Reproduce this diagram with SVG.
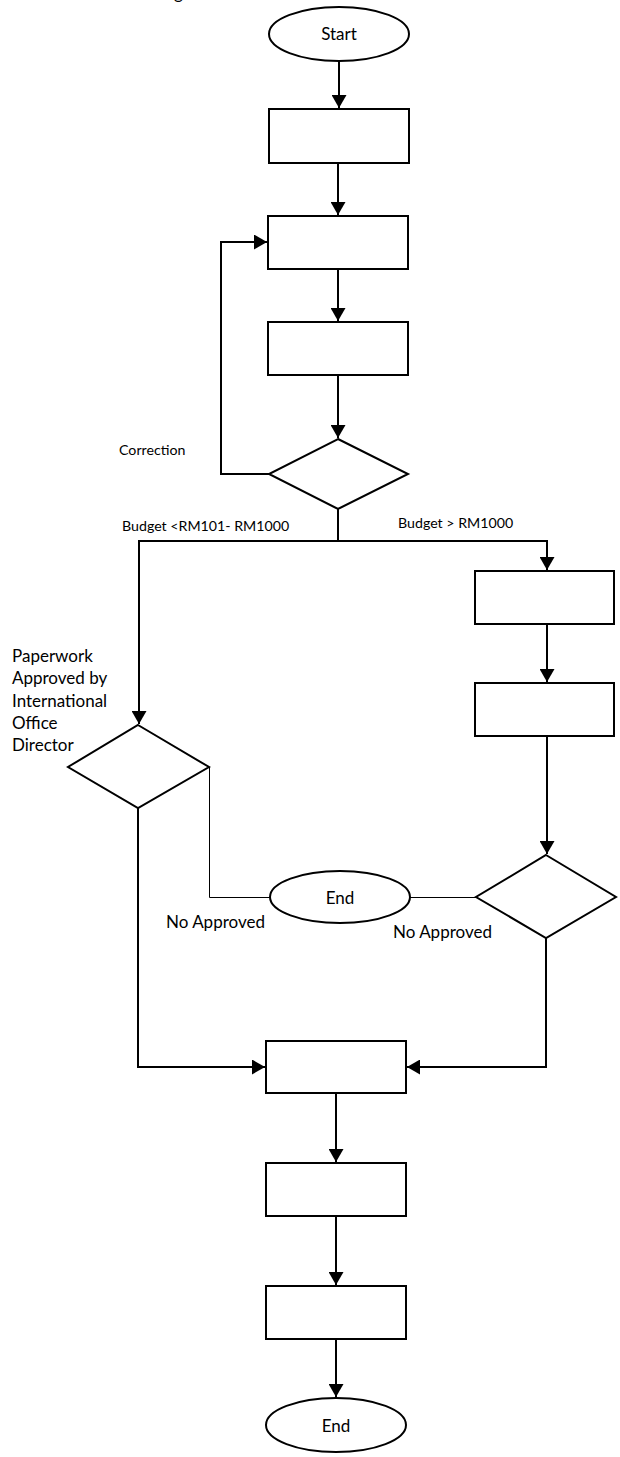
<svg xmlns="http://www.w3.org/2000/svg" width="620" height="1457" viewBox="0 0 620 1457">
<style>
.box{fill:#fff;stroke:#000;stroke-width:2}
.term{fill:#fff;stroke:#000;stroke-width:2}
.conn{fill:none;stroke:#000;stroke-width:2}
.thin{fill:none;stroke:#000;stroke-width:1}
.arr{marker-end:url(#ah)}
text{font-family:Lato,"Open Sans","Liberation Sans",sans-serif;fill:#000}
.big{font-size:17px}
.small{font-size:14.2px}
</style>
<defs>
<marker id="ah" markerUnits="userSpaceOnUse" markerWidth="14" markerHeight="15" refX="13" refY="7.5" orient="auto">
<path d="M0,0 L13,7.5 L0,15 z" fill="#000"/>
</marker>
</defs>
<rect width="620" height="1457" fill="#fff"/>
<text class="big" x="174" y="-1">g</text>
<g id="connectors">
<line class="conn arr" x1="339" y1="61" x2="339" y2="108"/>
<line class="conn arr" x1="338" y1="163" x2="338" y2="215"/>
<line class="conn arr" x1="338" y1="269" x2="338" y2="321"/>
<line class="conn arr" x1="338" y1="375" x2="338" y2="438"/>
<polyline class="conn arr" points="269,474 221,474 221,242 267,242"/>
<line class="conn" x1="338" y1="509" x2="338" y2="541"/>
<line class="conn" x1="138" y1="541" x2="548" y2="541"/>
<line class="conn arr" x1="547" y1="541" x2="547" y2="570"/>
<line class="conn arr" x1="139" y1="541" x2="139" y2="724"/>
<line class="conn arr" x1="547" y1="624" x2="547" y2="682"/>
<line class="conn arr" x1="547" y1="736" x2="547" y2="854"/>
<line class="thin" x1="410" y1="897.5" x2="476" y2="897.5"/>
<polyline class="thin" points="209.5,767 209.5,897.5 270,897.5"/>
<polyline class="conn arr" points="138,808 138,1067 265,1067"/>
<polyline class="conn arr" points="546,938 546,1067 407,1067"/>
<line class="conn arr" x1="336" y1="1093" x2="336" y2="1162"/>
<line class="conn arr" x1="336" y1="1216" x2="336" y2="1285"/>
<line class="conn arr" x1="336" y1="1339" x2="336" y2="1397"/>
</g>
<g id="start"><ellipse class="term" cx="339" cy="34" rx="70" ry="27"/><text class="big" x="339" y="40" text-anchor="middle">Start</text></g>
<g id="box1"><rect class="box" x="269" y="109" width="140" height="54"/></g>
<g id="box2"><rect class="box" x="268" y="216" width="140" height="53"/></g>
<g id="box3"><rect class="box" x="268" y="322" width="140" height="53"/></g>
<g id="decision1"><polygon class="box" points="338,439 408,474 338,509 269,474"/></g>
<g id="label-correction"><text class="small" x="119" y="455">Correction</text></g>
<g id="label-budget-low"><text class="small" x="122" y="531">Budget &lt;RM101- RM1000</text></g>
<g id="label-budget-high"><text class="small" x="398" y="528">Budget &gt; RM1000</text></g>
<g id="rbox1"><rect class="box" x="475" y="571" width="139" height="53"/></g>
<g id="rbox2"><rect class="box" x="475" y="683" width="139" height="53"/></g>
<g id="decision-right"><polygon class="box" points="546,855 616,897 546,938 476,897"/></g>
<g id="end-mid"><ellipse class="term" cx="340" cy="897" rx="70" ry="26"/><text class="big" x="340" y="904" text-anchor="middle">End</text></g>
<g id="decision-left"><polygon class="box" points="138,725 209,767 138,808 68,767"/></g>
<g id="label-paperwork">
<text class="big" x="12" y="662">Paperwork</text>
<text class="big" x="12" y="684">Approved by</text>
<text class="big" x="12" y="707">International</text>
<text class="big" x="12" y="729">Office</text>
<text class="big" x="12" y="751">Director</text>
</g>
<g id="label-no-left"><text class="big" x="166" y="928">No Approved</text></g>
<g id="label-no-right"><text class="big" x="393" y="938">No Approved</text></g>
<g id="box4"><rect class="box" x="266" y="1041" width="140" height="52"/></g>
<g id="box5"><rect class="box" x="266" y="1163" width="140" height="53"/></g>
<g id="box6"><rect class="box" x="266" y="1286" width="140" height="53"/></g>
<g id="end"><ellipse class="term" cx="336" cy="1425" rx="70" ry="27"/><text class="big" x="336" y="1432" text-anchor="middle">End</text></g>
</svg>
